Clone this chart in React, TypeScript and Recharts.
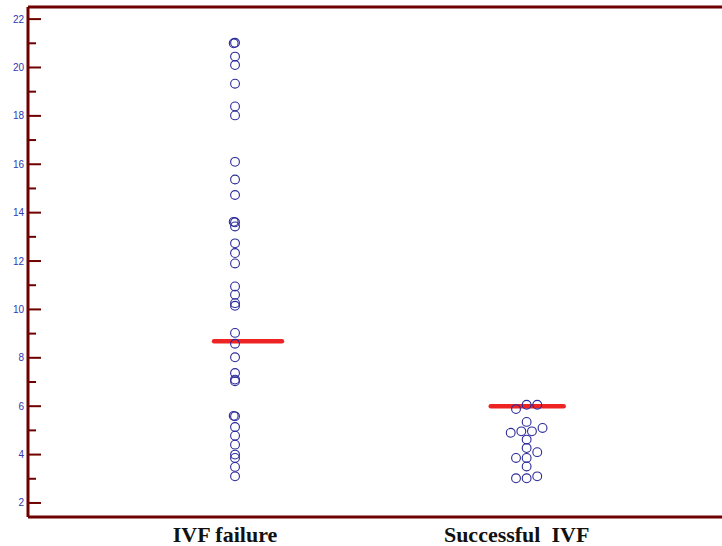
import { ReferenceLine, Scatter, ScatterChart, XAxis, YAxis } from "recharts";

// groups along the x axis
const categories = ["IVF failure", "Successful  IVF"];
const groupPos = [1, 2];

// IVF failure: values and jitter column (0 = centre column)
const failureValues = [
  21.02, 21.0, 20.45, 20.1, 19.33, 18.39, 18.02, 16.1, 15.37, 14.73, 13.62, 13.6,
  13.43, 12.73, 12.33, 11.9, 10.95, 10.61, 10.26, 10.15, 9.03, 8.58, 8.02, 7.37,
  7.1, 7.03, 5.6, 5.58, 5.14, 4.78, 4.41, 4.0, 3.86, 3.49, 3.1,
];
const failureCols = [
  0, -0.25, 0, 0, 0, 0, 0, 0, 0, 0, -0.25, 0, 0, 0, 0, 0, 0, 0, 0, 0, 0, 0, 0, 0,
  0, 0, -0.25, 0, 0, 0, 0, 0, 0, 0, 0,
];

// Successful IVF
const successValues = [
  6.06, 6.06, 5.88, 5.35, 5.1, 4.96, 4.96, 4.9, 4.62, 4.27, 4.1, 3.86, 3.86, 3.51,
  3.1, 3.02, 3.02,
];
const successCols = [0, 2, -2, 0, 3, -1, 1, -3, 0, 0, 2, -2, 0, 0, 2, -2, 0];

// horizontal bar drawn for each group
const centerValues = [8.68, 6.0];

const yTicks = [2, 3, 4, 5, 6, 7, 8, 9, 10, 11, 12, 13, 14, 15, 16, 17, 18, 19, 20, 21, 22];

const Y_MIN = 1.42;
const Y_MAX = 22.5;
const X_MIN = 0.29;
const X_MAX = 2.67;
const COL_STEP = 0.0182;
// bar extents relative to group centre (x units)
const barSpans = [
  [-0.072, 0.161],
  [-0.123, 0.127],
];

const AXIS = "#6e0000";
const DOT = "#2a2a9a";
const BAR = "#ee2424";
const TICK_TEXT = "#3535b5";

const failureData = failureValues.map((v, i) => ({
  x: groupPos[0] + failureCols[i] * COL_STEP,
  y: v,
}));
const successData = successValues.map((v, i) => ({
  x: groupPos[1] + successCols[i] * COL_STEP,
  y: v,
}));

const Ring = (props: any) => (
  <circle cx={props.cx} cy={props.cy} r={4.4} fill="none" stroke={DOT} strokeWidth={1.1} />
);

const YTick = (props: any) => {
  const { x, y, payload } = props;
  const major = payload.value % 2 === 0;
  return (
    <g>
      <line x1={x} x2={x + (major ? 13 : 8)} y1={y} y2={y} stroke={AXIS} strokeWidth={2} />
      {major && (
        <text
          x={x - 4}
          y={y}
          dy={3.5}
          textAnchor="end"
          fontFamily="Liberation Sans, Arial, sans-serif"
          fontSize={10}
          fill={TICK_TEXT}
        >
          {payload.value}
        </text>
      )}
    </g>
  );
};

const XTick = (props: any) => {
  const { x, y, payload } = props;
  const idx = groupPos.indexOf(payload.value);
  return (
    <text
      x={x - 10}
      y={y + 25}
      textAnchor="middle"
      fontFamily="Liberation Serif, Times New Roman, serif"
      fontWeight="bold"
      fontSize={22}
      fill="#111"
      style={{ whiteSpace: "pre" }}
    >
      {categories[idx]}
    </text>
  );
};

export default function App() {
  return (
    <div style={{ position: "absolute", left: 0, top: 0, background: "#fff" }}>
      <ScatterChart width={722} height={546} margin={{ top: 7, right: 0, bottom: 0, left: 0 }}>
        <XAxis
          type="number"
          dataKey="x"
          domain={[X_MIN, X_MAX]}
          ticks={groupPos}
          allowDataOverflow
          height={29}
          tickSize={0}
          tickMargin={0}
          tickLine={false}
          axisLine={{ stroke: AXIS, strokeWidth: 3 }}
          tick={<XTick />}
        />
        <YAxis
          type="number"
          dataKey="y"
          domain={[Y_MIN, Y_MAX]}
          ticks={yTicks}
          interval={0}
          allowDataOverflow
          width={28}
          tickSize={0}
          tickMargin={0}
          tickLine={false}
          axisLine={{ stroke: AXIS, strokeWidth: 3 }}
          tick={<YTick />}
        />
        <ReferenceLine y={Y_MAX} stroke={AXIS} strokeWidth={3} />
        <Scatter data={failureData} shape={<Ring />} isAnimationActive={false} />
        <Scatter data={successData} shape={<Ring />} isAnimationActive={false} />
        {centerValues.map((v, i) => (
          <ReferenceLine
            key={i}
            segment={[
              { x: groupPos[i] + barSpans[i][0], y: v },
              { x: groupPos[i] + barSpans[i][1], y: v },
            ]}
            stroke={BAR}
            strokeWidth={4.5}
            strokeLinecap="round"
          />
        ))}
      </ScatterChart>
    </div>
  );
}
